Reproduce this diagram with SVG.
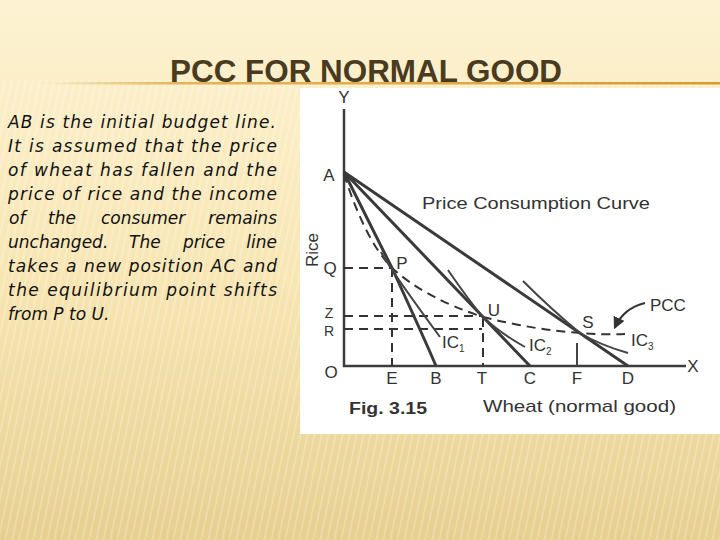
<svg xmlns="http://www.w3.org/2000/svg" width="720" height="540" viewBox="0 0 720 540">
  <defs>
    <linearGradient id="bg" x1="0" y1="0" x2="0" y2="1">
      <stop offset="0" stop-color="#fdf3d2"/>
      <stop offset="0.5" stop-color="#f8e6b4"/>
      <stop offset="1" stop-color="#e6cf8f"/>
    </linearGradient>
    <linearGradient id="rule" x1="0" y1="0" x2="1" y2="0">
      <stop offset="0" stop-color="#e0ad4e" stop-opacity="0"/>
      <stop offset="0.2" stop-color="#e0ad4e" stop-opacity="0.9"/>
      <stop offset="1" stop-color="#d99a30"/>
    </linearGradient>
    <pattern id="stripes" width="7" height="540" patternUnits="userSpaceOnUse" patternTransform="skewX(-12)">
      <rect x="0" y="0" width="2" height="540" fill="#ffffff" opacity="0.22"/>
    </pattern>
    <marker id="arr" viewBox="0 0 10 10" refX="8" refY="5" markerWidth="6" markerHeight="6" orient="auto">
      <path d="M0,0 L10,5 L0,10 z" fill="#333"/>
    </marker>
    <style>
      .body { font-family: "DejaVu Sans", "Liberation Sans", sans-serif; font-style: italic; font-size: 17px; fill: #111; }
      .lbl { font-family: "Liberation Sans", Arial, sans-serif; font-size: 17px; fill: #333; }
      .sm { font-size: 14px; }
      .sub { font-size: 10px; }
      .axis { stroke: #3c3c3c; stroke-width: 2.5; fill: none; }
      .budget { stroke: #3a3a3a; stroke-width: 3; fill: none; }
      .ic { stroke: #444; stroke-width: 2; fill: none; }
      .dash { stroke: #333; stroke-width: 2; fill: none; stroke-dasharray: 9 6; }
    </style>
  </defs>

  <!-- background -->
  <rect x="0" y="0" width="720" height="540" fill="url(#bg)"/>
  <rect x="0" y="80" width="720" height="460" fill="url(#stripes)"/>

  <!-- title -->
  <g id="title">
    <text x="170" y="82" textLength="392" lengthAdjust="spacingAndGlyphs" style="font-family:'Liberation Sans',Arial,sans-serif;font-size:31px;font-weight:bold;fill:#4a3b20">PCC  FOR NORMAL GOOD</text>
    <rect x="40" y="82" width="680" height="2.5" fill="url(#rule)"/>
  </g>

  <!-- body text -->
  <g id="description" class="body">
    <text x="8" y="128" textLength="268" lengthAdjust="spacing">AB is the initial budget line.</text>
    <text x="8" y="152" textLength="269" lengthAdjust="spacing">It is assumed that the price</text>
    <text x="8" y="176" textLength="269" lengthAdjust="spacing">of wheat has fallen and the</text>
    <text x="8" y="200" textLength="269" lengthAdjust="spacing">price of rice and the income</text>
    <text y="224"><tspan x="9">of</tspan><tspan x="48">the</tspan><tspan x="101">consumer</tspan><tspan x="277" text-anchor="end">remains</tspan></text>
    <text y="248"><tspan x="8">unchanged.</tspan><tspan x="129">The</tspan><tspan x="183">price</tspan><tspan x="277" text-anchor="end">line</tspan></text>
    <text x="8" y="272" textLength="269" lengthAdjust="spacing">takes a new position AC and</text>
    <text x="8" y="296" textLength="269" lengthAdjust="spacing">the equilibrium point shifts</text>
    <text x="8" y="320">from P to U.</text>
  </g>

  <!-- chart panel -->
  <rect id="panel" x="300" y="88" width="420" height="346" fill="#ffffff"/>

  <g id="axes">
    <path class="axis" d="M344,109 L344,366 L686,366"/>
    <text class="lbl" x="344" y="103" text-anchor="middle">Y</text>
    <text class="lbl" x="693" y="372" text-anchor="middle">X</text>
    <text class="lbl" x="331" y="378" text-anchor="middle">O</text>
    <text class="lbl" x="0" y="0" text-anchor="middle" transform="translate(318,250) rotate(-90)">Rice</text>
  </g>

  <g id="connectors">
    <!-- guide dashed lines -->
    <path class="dash" d="M344,268 L392,268"/>
    <path class="dash" d="M392,268 L392,366"/>
    <path class="dash" d="M344,316 L483,316"/>
    <path class="dash" d="M344,329 L482,329"/>
    <path class="dash" d="M483,318 L483,366" stroke-dasharray="10 4 2 4"/>
    <path class="ic" d="M577,343 L577,366"/>
    <!-- PCC dashed -->
    <path class="dash" d="M344,174 Q365,240 392,268 Q425,298 483,317 Q535,330 580,333 Q605,335 625,334"/>
    <!-- budget lines -->
    <path class="budget" d="M344,172 L392,268 Q425,340 436,366"/>
    <path class="budget" d="M344,172 L530,366"/>
    <path class="budget" d="M344,172 L628,366"/>
    <!-- indifference curves -->
    <path class="ic" d="M381,252 Q392,272 440,337"/>
    <path class="ic" d="M448,270 Q470,302 483,317 Q500,333 525,347"/>
    <path class="ic" d="M523,281 Q552,310 580,333 Q600,345 628,353"/>
    <!-- PCC pointer arrow -->
    <path d="M645,303 Q624,308 615,327" stroke="#333" stroke-width="2" fill="none" marker-end="url(#arr)"/>
  </g>

  <g id="node-A"><text class="lbl" x="329" y="181" text-anchor="middle">A</text></g>
  <g id="node-Q"><text class="lbl" x="330" y="274" text-anchor="middle">Q</text></g>
  <g id="node-Z"><text class="lbl sm" x="329" y="318" text-anchor="middle">Z</text></g>
  <g id="node-R"><text class="lbl sm" x="329" y="336" text-anchor="middle">R</text></g>
  <g id="node-E"><text class="lbl" x="392" y="384" text-anchor="middle">E</text></g>
  <g id="node-B"><text class="lbl" x="436" y="384" text-anchor="middle">B</text></g>
  <g id="node-T"><text class="lbl" x="482" y="384" text-anchor="middle">T</text></g>
  <g id="node-C"><text class="lbl" x="530" y="384" text-anchor="middle">C</text></g>
  <g id="node-F"><text class="lbl" x="577" y="384" text-anchor="middle">F</text></g>
  <g id="node-D"><text class="lbl" x="628" y="384" text-anchor="middle">D</text></g>
  <g id="node-P"><text class="lbl" x="402" y="269" text-anchor="middle">P</text></g>
  <g id="node-U"><text class="lbl" x="494" y="316" text-anchor="middle">U</text></g>
  <g id="node-S"><text class="lbl" x="588" y="328" text-anchor="middle">S</text></g>
  <g id="label-IC1"><text class="lbl" x="442" y="348">IC<tspan class="sub" dy="4">1</tspan></text></g>
  <g id="label-IC2"><text class="lbl" x="529" y="351">IC<tspan class="sub" dy="4">2</tspan></text></g>
  <g id="label-IC3"><text class="lbl" x="631" y="346">IC<tspan class="sub" dy="4">3</tspan></text></g>
  <g id="label-PCC"><text class="lbl" x="650" y="311">PCC</text></g>
  <g id="label-pcc-title"><text class="lbl" x="422" y="209" textLength="228" lengthAdjust="spacingAndGlyphs">Price Consumption Curve</text></g>
  <g id="caption">
    <text x="349" y="414" textLength="78" lengthAdjust="spacingAndGlyphs" style="font-family:'Liberation Sans',Arial,sans-serif;font-size:16px;font-weight:bold;fill:#333">Fig. 3.15</text>
    <text class="lbl" x="483" y="412" textLength="193" lengthAdjust="spacingAndGlyphs">Wheat  (normal good)</text>
  </g>
</svg>
